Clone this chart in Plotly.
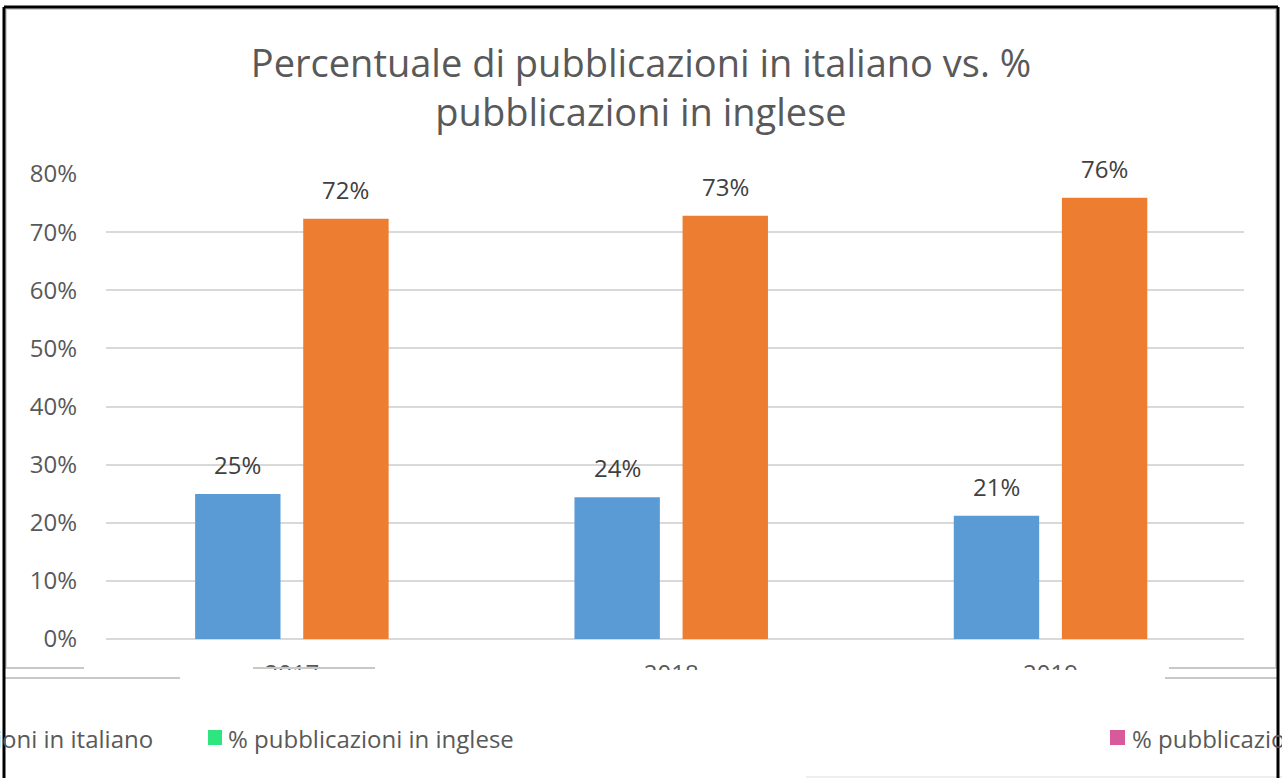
import plotly.graph_objects as go

# values (percent)
years = ["2017", "2018", "2019"]
pct_italiano = [24.96, 24.4, 21.2]
pct_inglese = [72.3, 72.8, 75.9]
y_ticks = [0, 10, 20, 30, 40, 50, 60, 70, 80]

TITLE = "Percentuale di pubblicazioni in italiano vs. %<br>pubblicazioni in inglese"
NAME_IT = "% pubblicazioni in italiano"
NAME_EN = "% pubblicazioni in inglese"

BLUE = "#5B9BD5"
ORANGE = "#ED7D31"
GREY_TXT = "#595959"
GRID = "#D9D9D9"
FONT = "Open Sans"

W, H = 1282, 778
L, R, T, B = 106, 38, 174, 139


def px(x):
    return (x - L) / (W - L - R)


def py(y):
    return (H - B - y) / (H - T - B)


def hline(x0, x1, y, color, width=2):
    return dict(type="line", xref="paper", yref="paper", layer="above",
                x0=px(x0), x1=px(x1), y0=py(y), y1=py(y),
                line=dict(color=color, width=width))


def vline(x, y0, y1, color, width=2):
    return dict(type="line", xref="paper", yref="paper", layer="above",
                x0=px(x), x1=px(x), y0=py(y0), y1=py(y1),
                line=dict(color=color, width=width))


fig = go.Figure()
fig.add_trace(go.Bar(x=years, y=pct_italiano, name=NAME_IT,
                     marker=dict(color=BLUE, line=dict(width=0))))
fig.add_trace(go.Bar(x=years, y=pct_inglese, name=NAME_EN,
                     marker=dict(color=ORANGE, line=dict(width=0))))

annotations = []
for vals, shift in [(pct_italiano, -54), (pct_inglese, 54)]:
    for i, v in enumerate(vals):
        # category index (a "2017" string would be read as position 2017)
        annotations.append(dict(x=i, y=v, xref="x", yref="y", text=f"{round(v)}%",
                                showarrow=False, yanchor="bottom", xshift=shift, yshift=11,
                                font=dict(family=FONT, size=24, color="#404040")))

# legend (partly cut off, as in the reference)
legend_y = py(738)
annotations.append(dict(x=px(155), y=legend_y, xref="paper", yref="paper", text=NAME_IT,
                        showarrow=False, xanchor="right", yanchor="middle",
                        font=dict(family=FONT, size=24, color=GREY_TXT)))
annotations.append(dict(x=px(226), y=legend_y, xref="paper", yref="paper", text=NAME_EN,
                        showarrow=False, xanchor="left", yanchor="middle",
                        font=dict(family=FONT, size=24, color=GREY_TXT)))
annotations.append(dict(x=px(1130), y=legend_y, xref="paper", yref="paper", text=NAME_IT,
                        showarrow=False, xanchor="left", yanchor="middle",
                        font=dict(family=FONT, size=24, color=GREY_TXT)))

shapes = [
    # white band hiding most of the category labels
    dict(type="rect", xref="paper", yref="paper", layer="above",
         x0=px(0), x1=px(W), y0=py(670), y1=py(705),
         fillcolor="white", line=dict(width=0)),
    # inner light frame
    hline(6, 1276, 9, "#D0D0D0"),
    vline(6, 9, 668, "#D0D0D0"),
    vline(1276, 9, 668, "#D0D0D0"),
    hline(5, 84, 668, "#C8C8C8"),
    hline(253, 375, 668, "#C8C8C8"),
    hline(1169, 1278, 668, "#C8C8C8"),
    hline(5, 180, 678, "#C8C8C8"),
    hline(1165, 1278, 678, "#C8C8C8"),
    hline(806, 1282, 777, "#EEEEEE"),
    # legend markers
    dict(type="rect", xref="paper", yref="paper", layer="above",
         x0=px(208), x1=px(222), y0=py(745), y1=py(730),
         fillcolor="#2EE57F", line=dict(width=0)),
    dict(type="rect", xref="paper", yref="paper", layer="above",
         x0=px(1110), x1=px(1125), y0=py(745), y1=py(730),
         fillcolor="#D85A9B", line=dict(width=0)),
    # black outer frame
    vline(4, 7, H + 2, "black", 3),
    hline(4, 1278, 7, "black", 3),
    vline(1278, 7, H + 2, "black", 3),
]

fig.update_layout(
    width=W, height=H,
    margin=dict(l=L, r=R, t=T, b=B),
    paper_bgcolor="white", plot_bgcolor="white",
    showlegend=False,
    barmode="group", bargap=0.43, bargroupgap=0.21,
    title=dict(text=TITLE, x=641 / W, xref="container", xanchor="center",
               y=1 - 77 / H, yanchor="middle",
               font=dict(family=FONT, size=38, color=GREY_TXT)),
    font=dict(family=FONT, size=24, color=GREY_TXT),
    annotations=annotations,
    shapes=shapes,
)
fig.update_xaxes(type="category", range=[-0.49, 2.51],
                 showgrid=False, showline=False, zeroline=False, ticks="",
                 tickfont=dict(family=FONT, size=24, color=GREY_TXT),
                 ticklabelstandoff=18)
fig.update_yaxes(range=[0, 80], tickvals=y_ticks, ticktext=[f"{v}%" for v in y_ticks],
                 showgrid=True, gridcolor=GRID, gridwidth=2,
                 zeroline=True, zerolinecolor=GRID, zerolinewidth=2,
                 showline=False, ticks="", ticklabelstandoff=28,
                 tickfont=dict(family=FONT, size=24, color=GREY_TXT))

fig.write_html("out.html", config={"displayModeBar": False},
               post_script="document.body.style.margin='0';")
